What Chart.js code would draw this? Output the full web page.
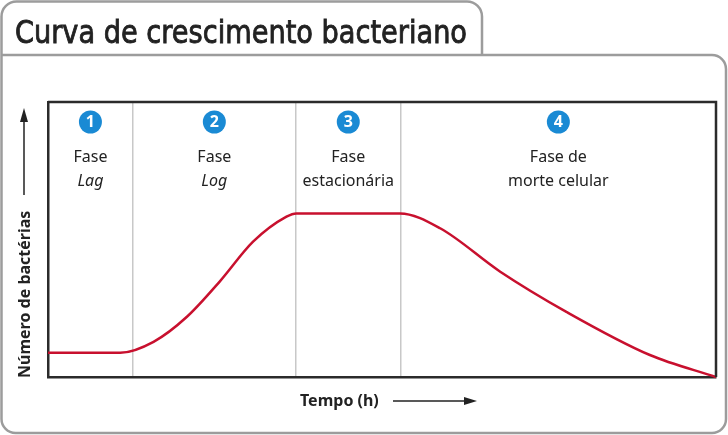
<!DOCTYPE html>
<html>
<head>
<meta charset="utf-8">
<script src="https://cdn.jsdelivr.net/npm/chart.js@4/dist/chart.umd.min.js"></script>
<style>
  body { margin: 0; background: #fff; }
  #wrap { width: 728px; height: 435px; position: relative; }
</style>
</head>
<body>
<div id="wrap"><canvas id="chart"></canvas></div>
<script>
// Curve (time in arbitrary units 0-100, bacteria count 0-100)
const timeValues = [0, 10.8, 15.8, 20.8, 25.7, 30.7, 35.7, 37.2,
                    52.7, 58.7, 67.7, 77.6, 90.1, 100];
const countValues = [8.8, 8.8, 12.8, 21.9, 34.7, 49.2, 58.3, 59.5,
                     59.5, 54.1, 38.3, 23.7, 8.0, 0];

// Phase boundaries and labels
const phaseBounds = [0, 12.7, 37.1, 52.8, 100];
const phaseNumbers = ['1', '2', '3', '4'];
const phaseLine1 = ['Fase', 'Fase', 'Fase', 'Fase de'];
const phaseLine2 = ['Lag', 'Log', 'estacionária', 'morte celular'];
const phaseItalic = [true, true, false, false];

const titleText = 'Curva de crescimento bacteriano';
const xTitle = 'Tempo (h)';
const yTitle = 'Número de bactérias';

const FONT = '"Noto Sans", "Open Sans", sans-serif';

// Frame with tab, titles and phase labels
const framePlugin = {
  id: 'frame',
  beforeDraw(chart) {
    const ctx = chart.ctx;
    ctx.save();
    ctx.fillStyle = '#fff';
    ctx.fillRect(0, 0, chart.width, chart.height);
    ctx.strokeStyle = '#9c9c9c';
    ctx.lineWidth = 2.5;
    // tab
    ctx.beginPath();
    ctx.moveTo(1.5, 55);
    ctx.lineTo(1.5, 16);
    ctx.arcTo(1.5, 1.5, 16, 1.5, 15);
    ctx.lineTo(467, 1.5);
    ctx.arcTo(482, 1.5, 482, 16, 15);
    ctx.lineTo(482, 55);
    ctx.stroke();
    // main box
    ctx.beginPath();
    ctx.moveTo(1.5, 55);
    ctx.lineTo(712, 55);
    ctx.arcTo(726, 55, 726, 69, 14);
    ctx.lineTo(726, 419);
    ctx.arcTo(726, 433, 712, 433, 14);
    ctx.lineTo(15, 433);
    ctx.arcTo(1.5, 433, 1.5, 419, 14);
    ctx.lineTo(1.5, 55);
    ctx.stroke();
    // title (slightly heavier than regular)
    ctx.fillStyle = '#222';
    ctx.strokeStyle = '#222';
    ctx.lineWidth = 0.9;
    ctx.font = '32px "DejaVu Sans", sans-serif';
    ctx.textBaseline = 'alphabetic';
    ctx.textAlign = 'left';
    ctx.fillText(titleText, 15, 43, 452);
    ctx.strokeText(titleText, 15, 43, 452);
    ctx.restore();
  },
  afterDatasetsDraw(chart) {
    const ctx = chart.ctx;
    const a = chart.chartArea;
    const xs = chart.scales.x;
    ctx.save();
    // top and right border of plot
    ctx.strokeStyle = '#2b2b2b';
    ctx.lineWidth = 2.5;
    ctx.beginPath();
    ctx.moveTo(a.left, a.top);
    ctx.lineTo(a.right, a.top);
    ctx.lineTo(a.right, a.bottom);
    ctx.stroke();

    // phase labels
    ctx.textAlign = 'center';
    ctx.textBaseline = 'middle';
    for (let i = 0; i < phaseNumbers.length; i++) {
      const cx = (xs.getPixelForValue(phaseBounds[i]) + xs.getPixelForValue(phaseBounds[i + 1])) / 2;
      ctx.fillStyle = '#1a8ad4';
      ctx.beginPath();
      ctx.arc(cx, 122, 11.5, 0, Math.PI * 2);
      ctx.fill();
      ctx.fillStyle = '#fff';
      ctx.font = 'bold 16px ' + FONT;
      ctx.fillText(phaseNumbers[i], cx, 122.5);
      ctx.fillStyle = '#222';
      ctx.font = '16px ' + FONT;
      ctx.fillText(phaseLine1[i], cx, 157);
      ctx.font = (phaseItalic[i] ? 'italic ' : '') + '16px ' + FONT;
      ctx.fillText(phaseLine2[i], cx, 181);
    }

    // x axis title + arrow
    ctx.fillStyle = '#222';
    ctx.font = 'bold 16px ' + FONT;
    ctx.textAlign = 'left';
    ctx.fillText(xTitle, 300, 401, 82);
    ctx.strokeStyle = '#222';
    ctx.lineWidth = 1.5;
    ctx.beginPath();
    ctx.moveTo(393, 401);
    ctx.lineTo(466, 401);
    ctx.stroke();
    ctx.beginPath();
    ctx.moveTo(477, 401);
    ctx.lineTo(464, 397);
    ctx.lineTo(464, 405);
    ctx.closePath();
    ctx.fill();

    // y axis title + arrow
    ctx.save();
    ctx.translate(25, 378);
    ctx.rotate(-Math.PI / 2);
    ctx.fillText(yTitle, 0, 0, 172);
    ctx.restore();
    ctx.beginPath();
    ctx.moveTo(24, 195);
    ctx.lineTo(24, 120);
    ctx.stroke();
    ctx.beginPath();
    ctx.moveTo(24, 108);
    ctx.lineTo(20, 122);
    ctx.lineTo(28, 122);
    ctx.closePath();
    ctx.fill();
    ctx.restore();
  }
};

const points = timeValues.map((t, i) => ({ x: t, y: countValues[i] }));

new Chart(document.getElementById('chart'), {
  type: 'line',
  data: {
    datasets: [{
      data: points,
      borderColor: '#c8102e',
      borderWidth: 2.5,
      pointRadius: 0,
      cubicInterpolationMode: 'monotone',
      fill: false,
      clip: false
    }]
  },
  options: {
    responsive: true,
    maintainAspectRatio: false,
    animation: false,
    layout: { padding: { left: 48, top: 102, right: 12, bottom: 58 } },
    plugins: { legend: { display: false }, tooltip: { enabled: false } },
    scales: {
      x: {
        type: 'linear',
        min: 0,
        max: 100,
        afterBuildTicks: (axis) => { axis.ticks = phaseBounds.slice(1, -1).map(v => ({ value: v })); },
        ticks: { display: false },
        grid: { color: '#c8c8c8', lineWidth: 1.5, drawTicks: false },
        border: { display: true, color: '#2b2b2b', width: 2.5 }
      },
      y: {
        min: 0,
        max: 100,
        ticks: { display: false },
        grid: { display: false, drawTicks: false },
        border: { display: true, color: '#2b2b2b', width: 2.5 }
      }
    }
  },
  plugins: [framePlugin]
});
</script>
</body>
</html>
